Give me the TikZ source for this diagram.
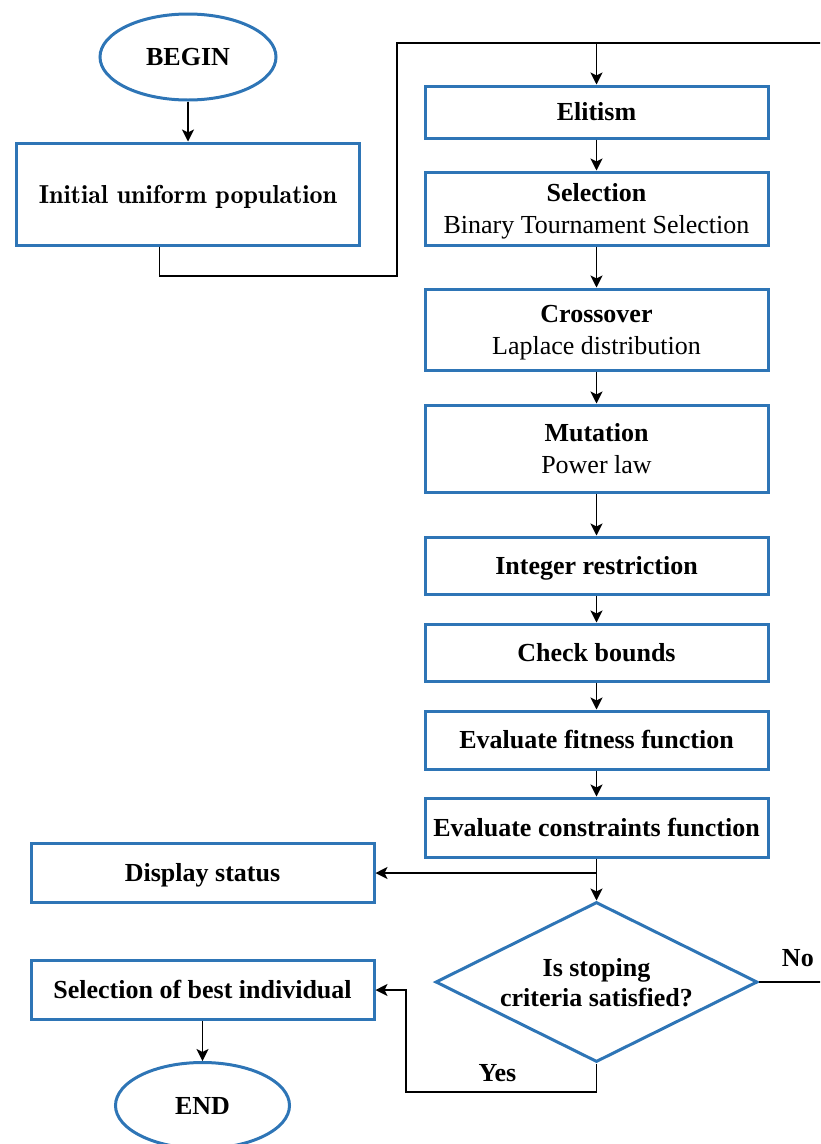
\documentclass[tikz,border=0pt]{standalone}
\usepackage{fontspec}
\newfontfamily\tnr{Liberation Serif}
\newfontfamily\lmdemi{lmromandemi10-regular.otf}
\usepackage{tikz}
\usetikzlibrary{positioning, shapes, arrows.meta}
\definecolor{boxblue}{RGB}{46,117,182}

\begin{document}
\begin{tikzpicture}[
    x=1pt, y=-1pt,
    node distance=30pt,
    every node/.style={text centered, inner sep=0pt, font=\tnr\fontsize{26}{31}\selectfont},
    box/.style={draw=boxblue, line width=3pt, minimum width=343pt, minimum height=57pt},
    process/.style={box, text height=17pt, text depth=0pt, font=\tnr\bfseries\fontsize{26}{31}\selectfont},
    twoline/.style={box, align=center, text depth=0pt, font=\tnr\fontsize{26}{32}\selectfont},
    startstop/.style={ellipse, draw=boxblue, line width=3pt, minimum width=176pt, minimum height=86pt, text height=17pt, text depth=0pt, font=\tnr\bfseries\fontsize{26}{31}\selectfont},
    decision/.style={diamond, aspect=2, draw=boxblue, line width=3pt, minimum width=322pt, minimum height=160pt, align=center, text depth=0pt, font=\tnr\bfseries\fontsize{26}{30}\selectfont},
    label/.style={font=\tnr\bfseries\fontsize{26}{31}\selectfont},
    arrow/.style={-{Stealth[length=12pt, width=12pt, inset=3pt]}, line width=1.4pt},
    line/.style={line width=1.4pt}
    ]
    \useasboundingbox (0,0) rectangle (820,1144);
    \clip (0,0) rectangle (820,1144);

    \node (begin) [startstop] at (188,57) {BEGIN};
    \node (init) [box, below=40pt of begin, minimum height=102pt, text height=18pt, text depth=0pt, font=\lmdemi\fontsize{26}{31}\selectfont] {Initial uniform population};

    \node (elitism) [process, minimum height=52pt] at (596.5,112) {Elitism};
    \node (select) [twoline, below=31pt of elitism, minimum height=73pt] {\textbf{Selection}\\Binary Tournament Selection};
    \node (cross) [twoline, below=41pt of select, minimum height=81pt] {\textbf{Crossover}\\Laplace distribution};
    \node (mutate) [twoline, below=32pt of cross, minimum height=87pt] {\textbf{Mutation}\\Power law};
    \node (integer) [process, below=42pt of mutate] {Integer restriction};
    \node (bounds) [process, below=27pt of integer] {Check bounds};
    \node (fitness) [process, below=27pt of bounds, minimum height=58pt] {Evaluate fitness function};
    \node (constr) [process, below=26pt of fitness, minimum height=59pt] {Evaluate constraints function};
    \node (check) [decision, below=42pt of constr] {Is stoping\\criteria satisfied?};

    \node (display) [process, minimum height=59pt] at (202.5,873) {Display status};
    \node (best) [process, minimum height=59pt] at (202.5,990) {Selection of best individual};
    \node (finish) [startstop, below=40pt of best, minimum width=174pt] {END};

    \coordinate (merge) at (596.5,43);

    \draw[arrow] (begin) -- (init);
    \draw[line] ([xshift=-28.5pt]init.south) |- (397,276) |- (merge);
    \draw[arrow] (merge) -- (elitism);
    \draw[arrow] (elitism) -- (select);
    \draw[arrow] (select) -- (cross);
    \draw[arrow] (cross) -- (mutate);
    \draw[arrow] (mutate) -- (integer);
    \draw[arrow] (integer) -- (bounds);
    \draw[arrow] (bounds) -- (fitness);
    \draw[arrow] (fitness) -- (constr);
    \draw[arrow] (constr) -- (check);
    \draw[arrow] (display.east -| constr.south) -- (display.east);
    \draw[line] (check.east) -- node[pos=0.48, above=15pt, label] {No} (840,982) |- (merge);
    \draw[arrow] (check.south) |- node[pos=0.76, above=10pt, label] {Yes} (406,1092) |- (best.east);
    \draw[arrow] (best) -- (finish);
\end{tikzpicture}
\end{document}
